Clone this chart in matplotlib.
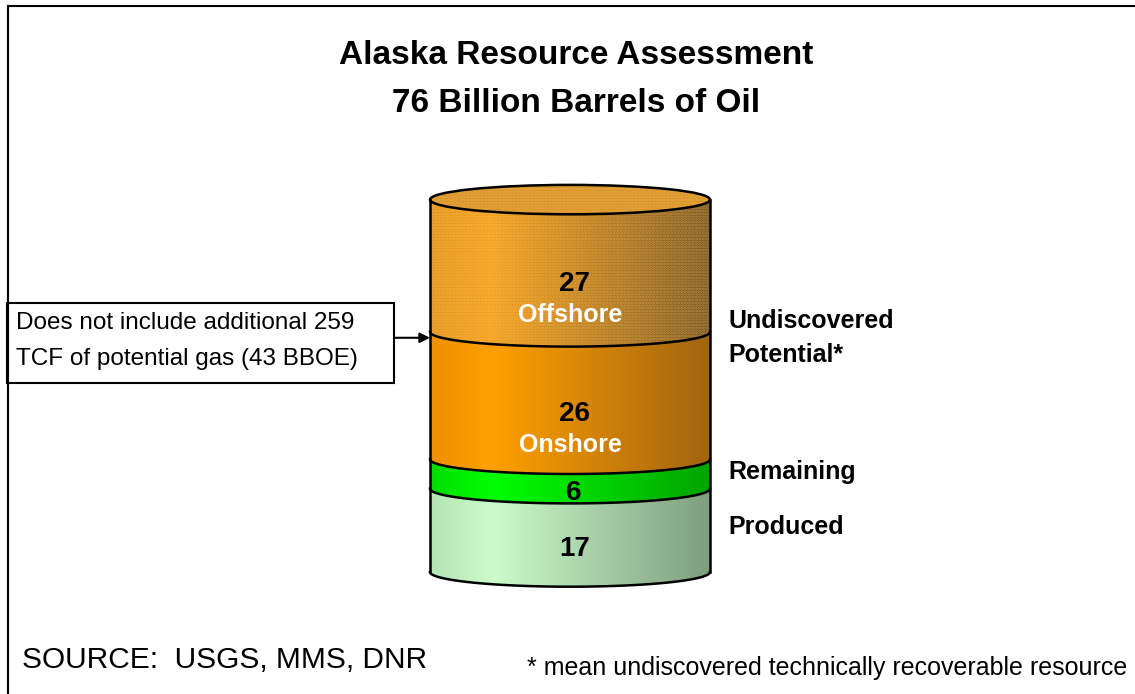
import numpy as np
import matplotlib
matplotlib.use("Agg")
import matplotlib.pyplot as plt
from matplotlib.path import Path
from matplotlib.patches import PathPatch, Rectangle, Ellipse
from matplotlib.lines import Line2D
from matplotlib.colors import to_rgb

plt.rcParams['font.family'] = ['Liberation Sans', 'DejaVu Sans']
plt.rcParams['hatch.linewidth'] = 1.3

# data (billion barrels), bottom to top
segments = ["Produced", "Remaining", "Onshore", "Offshore"]
values = [17, 6, 26, 27]
inner_words = ["", "", "Onshore", "Offshore"]
# gradient stops: left edge, highlight, right edge
seg_colors = [
    ("#b4e4b4", "#ccfccc", "#7e9e7e"),
    ("#00dc00", "#00ff00", "#00a400"),
    ("#ee9000", "#ffa000", "#a26410"),
    ("#e49010", "#f49c14", "#78521a"),
]
side_labels = [("Produced", 9.2), ("Remaining", 20.4),
               ("Undiscovered", 51.2), ("Potential*", 44.3)]

W, H = 1135, 694
fig = plt.figure(figsize=(W / 100, H / 100), dpi=100)
ax = fig.add_axes([0, 0, 1, 1])
ax.axis("off")

ry = 3.0          # ellipse half-height in data units
px_per_unit = 4.9
cx_px, half_px, base_px = 570, 140, 572
dots = (1.0, 0.88, 0.62, 0.38)


def front_arc(y, n=120):
    t = np.linspace(np.pi, 2 * np.pi, n)
    return np.cos(t), y + ry * np.sin(t)


def gradient(c0, c1, c2, n=256):
    t = np.linspace(0, 1, n)
    a, b, c = np.array(to_rgb(c0)), np.array(to_rgb(c1)), np.array(to_rgb(c2))
    img = np.zeros((1, n, 3))
    for i, ti in enumerate(t):
        if ti < 0.22:
            f = ti / 0.22
            img[0, i] = a + (b - a) * f
        else:
            f = (ti - 0.22) / 0.78
            img[0, i] = b + (c - b) * f
    return img


bounds = np.concatenate([[0], np.cumsum(values)])
top = bounds[-1]

for i, (name, val) in enumerate(zip(segments, values)):
    y0, y1 = bounds[i], bounds[i + 1]
    bx, by = front_arc(y0)
    tx, ty = front_arc(y1)
    xs = np.concatenate([bx, tx[::-1]])
    ys = np.concatenate([by, ty[::-1]])
    path = Path(np.column_stack([xs, ys]), closed=False)
    clip = PathPatch(path, facecolor="none", edgecolor="none")
    ax.add_patch(clip)
    im = ax.imshow(gradient(*seg_colors[i]), extent=(-1, 1, y0 - ry, y1 + ry),
                   aspect="auto", zorder=1, interpolation="bilinear")
    im.set_clip_path(clip)
    if name == "Offshore":
        ax.add_patch(PathPatch(path, facecolor="none", edgecolor=dots,
                               lw=0, hatch="......", zorder=2))
    # boundary arc
    ax.plot(bx, by, color="black", lw=1.8, zorder=4)
    mid = (y0 + y1) / 2 - ry - 0.8
    ax.text(0.03, mid, str(val), ha="center", va="center", fontsize=20,
            fontweight="bold", color="black", zorder=5)
    if inner_words[i]:
        ax.text(0.0, mid - 6.2, inner_words[i], ha="center", va="center",
                fontsize=18, fontweight="bold", color="white", zorder=5)

# top lid
ax.add_patch(Ellipse((0, top), 2, 2 * ry, facecolor="#d88e1c", edgecolor="none", zorder=3))
ax.add_patch(Ellipse((0, top), 2, 2 * ry, facecolor="none", edgecolor=dots,
                     lw=0, hatch="......", zorder=3))
ax.add_patch(Ellipse((0, top), 2, 2 * ry, facecolor="none", edgecolor="black", lw=1.8, zorder=4))
ax.plot([-1, -1], [0, top], color="black", lw=1.8, zorder=4)
ax.plot([1, 1], [0, top], color="black", lw=1.8, zorder=4)

for txt, y in side_labels:
    ax.text(1.13, y, txt, ha="left", va="center", fontsize=18,
            fontweight="bold", color="black")

# note box with arrow
ax.annotate("", xy=(-1.0, 47.8), xytext=(-1.257, 47.8),
            arrowprops=dict(arrowstyle="-|>", color="black", lw=1.5,
                            mutation_scale=15, shrinkA=0, shrinkB=0))
fig.add_artist(Rectangle((7 / W, 1 - 383 / H), 387 / W, 80 / H, transform=fig.transFigure,
                         facecolor="white", edgecolor="black", lw=1.5))
fig.text(16 / W, 1 - 323 / H, "Does not include additional 259", fontsize=17.5,
         ha="left", va="center")
fig.text(16 / W, 1 - 359 / H, "TCF of potential gas (43 BBOE)", fontsize=17.5,
         ha="left", va="center")

# titles and footnotes
fig.text(576 / W, 1 - 55 / H, "Alaska Resource Assessment", fontsize=24,
         fontweight="bold", ha="center", va="center")
fig.text(576 / W, 1 - 103 / H, "76 Billion Barrels of Oil", fontsize=24,
         fontweight="bold", ha="center", va="center")
fig.text(22 / W, 1 - 660 / H, "SOURCE:  USGS, MMS, DNR", fontsize=21.5,
         ha="left", va="center")
fig.text(1127 / W, 1 - 668 / H, "* mean undiscovered technically recoverable resource",
         fontsize=18, ha="right", va="center")

# frame
fig.add_artist(Line2D([8 / W, 8 / W], [0, 1 - 6 / H], transform=fig.transFigure,
                      color="black", lw=1.5))
fig.add_artist(Line2D([8 / W, 1], [1 - 6 / H, 1 - 6 / H], transform=fig.transFigure,
                      color="black", lw=1.5))

ax.set_xlim(-cx_px / half_px, (W - cx_px) / half_px)
ax.set_ylim(-(H - base_px) / px_per_unit, base_px / px_per_unit)

fig.savefig("out.png", dpi=100)
